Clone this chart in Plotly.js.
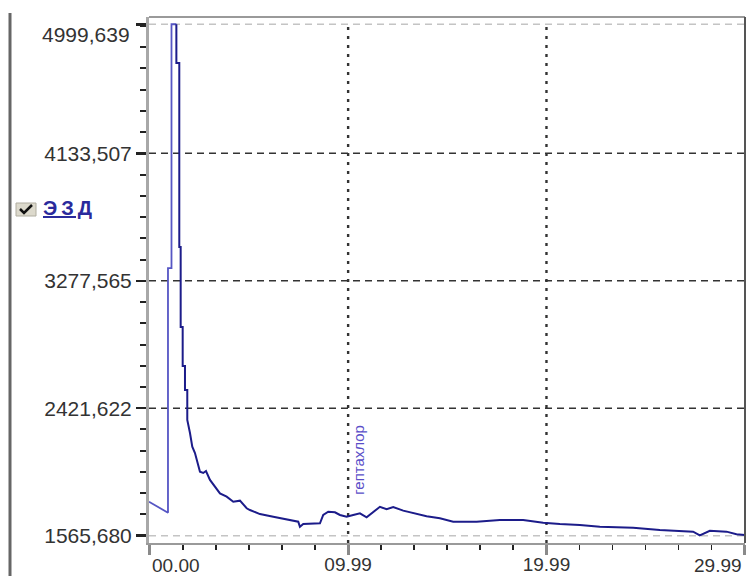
<!DOCTYPE html>
<html><head><meta charset="utf-8">
<script src="https://cdn.plot.ly/plotly-3.0.1.min.js"></script>
<style>html,body{margin:0;padding:0;background:#fff}#chart{width:748px;height:576px}</style>
</head><body><div id="chart"></div>
<script>
// ---- data ----
const timeMin = [-0.05, 0.907, 0.907, 1.084, 1.084, 1.33, 1.33, 1.477, 1.477, 1.547,
  1.547, 1.648, 1.648, 1.764, 1.764, 1.88, 1.88, 2.016, 2.132, 2.268,
  2.384, 2.52, 2.686, 2.823, 3.024, 3.276, 3.528, 3.866, 4.199, 4.536,
  4.874, 5.04, 5.544, 6.215, 6.89, 7.475, 7.56, 7.727, 8.569, 8.735,
  8.987, 9.325, 9.577, 9.914, 10.247, 10.585, 10.922, 11.593, 11.93, 12.263,
  12.767, 13.271, 13.947, 14.617, 15.287, 16.467, 17.641, 18.816, 19.824, 20.665,
  21.673, 22.681, 24.36, 25.706, 27.384, 27.722, 28.226, 29.068, 29.572, 29.99];
const signal = [1794, 1720, 3363, 3363, 5000, 5000, 4740, 4740, 3504, 3504,
  2967, 2967, 2705, 2705, 2544, 2544, 2343, 2255, 2163, 2121,
  2063, 1995, 1987, 2000, 1940, 1895, 1850, 1828, 1794, 1801,
  1750, 1738, 1711, 1693, 1676, 1660, 1626, 1644, 1649, 1705,
  1727, 1723, 1705, 1693, 1705, 1716, 1689, 1760, 1743, 1758,
  1734, 1716, 1697, 1683, 1660, 1660, 1671, 1671, 1653, 1644,
  1638, 1626, 1619, 1604, 1593, 1568, 1599, 1593, 1575, 1570];
const xTickVals = [0, 9.99, 19.99, 29.99];
const xTickText = ['00.00', '09.99', '19.99', '29.99'];
const yTickVals = [1565.680, 2421.622, 3277.565, 4133.507, 4999.639];
const yTickText = ['1565,680', '2421,622', '3277,565', '4133,507', '4999,639'];
const seriesName = 'ЭЗД';
const peakNames = ['гептахлор'];
const peakTimes = [10.48];
const peakLabelY = [2074];

// ---- layout geometry ----
const W = 748, H = 576, ML = 149, MR = 3, MT = 17, MB = 33;
const PW = W - ML - MR, PH = H - MT - MB;
const px = v => (v - ML) / PW;          // pixel x -> paper
const py = v => (H - MB - v) / PH;      // pixel y -> paper
const lightEnd = 6;
const FONT = 'Liberation Sans, Arial, sans-serif';

const traces = [
  {x: timeMin.slice(0, lightEnd), y: signal.slice(0, lightEnd), mode: 'lines',
   line: {color: '#5656c4', width: 1.8}, hoverinfo: 'skip', showlegend: false},
  {x: timeMin.slice(lightEnd - 1), y: signal.slice(lightEnd - 1), mode: 'lines', name: seriesName,
   line: {color: '#1c1c8a', width: 2}, showlegend: false}
];

const shapes = [];
yTickVals.forEach((v, i) => {
  const outer = (i === 0 || i === yTickVals.length - 1);
  shapes.push({type: 'line', xref: 'paper', yref: 'y', x0: 0, x1: 1, y0: v, y1: v, layer: 'below',
    line: {color: outer ? '#c4c4c4' : '#333', width: 1.6, dash: '7px,5px'}});
});
xTickVals.slice(1, -1).forEach(v => {
  shapes.push({type: 'line', xref: 'x', yref: 'paper', x0: v, x1: v, y0: 0, y1: 0.99, layer: 'below',
    line: {color: '#333', width: 2.4, dash: '3px,6px'}});
});
// top and right frame
shapes.push({type: 'line', xref: 'paper', yref: 'paper', x0: 0, x1: 1, y0: 1, y1: 1, line: {color: '#9a9a9a', width: 2}});
shapes.push({type: 'line', xref: 'paper', yref: 'paper', x0: 1, x1: 1, y0: 0, y1: 1, line: {color: '#555', width: 2}});
// far-left window frame
shapes.push({type: 'line', xref: 'paper', yref: 'paper', x0: px(10), x1: px(10), y0: py(13), y1: py(576), line: {color: '#666', width: 3}});
// legend checkbox
shapes.push({type: 'rect', xref: 'paper', yref: 'paper', x0: px(16), x1: px(36), y0: py(216), y1: py(203),
  fillcolor: '#dcd9cc', line: {color: '#b0ada0', width: 1}});
shapes.push({type: 'path', xref: 'paper', yref: 'paper',
  path: `M ${px(20)} ${py(209)} L ${px(24)} ${py(213)} L ${px(32)} ${py(205)}`,
  line: {color: '#111', width: 2.5}});

const annotations = [
  {xref: 'paper', yref: 'paper', x: px(41), y: py(208), xanchor: 'left', yanchor: 'middle', showarrow: false,
   text: '<b><u>' + seriesName.split('').join('\u2009') + '</u></b>', font: {family: FONT, size: 20, color: '#2a2a9c'}},
  // end x tick labels (kept inside the canvas like the reference)
  {xref: 'x', yref: 'paper', x: xTickVals[0], y: 0, yshift: -10, xanchor: 'left', yanchor: 'top', showarrow: false,
   text: xTickText[0], font: {family: FONT, size: 19, color: '#333'}},
  {xref: 'x', yref: 'paper', x: xTickVals[3], y: 0, yshift: -10, xanchor: 'right', xshift: -1, yanchor: 'top', showarrow: false,
   text: xTickText[3], font: {family: FONT, size: 19, color: '#333'}},
  // top y label, pushed down below the frame
  {xref: 'paper', yref: 'y', x: 0, xshift: -17, y: yTickVals[4], yshift: -10, xanchor: 'right', yanchor: 'middle', showarrow: false,
   text: yTickText[4], font: {family: FONT, size: 21, color: '#333'}}
];
peakNames.forEach((n, i) => annotations.push({xref: 'x', yref: 'y', x: peakTimes[i], y: peakLabelY[i], textangle: -90,
  showarrow: false, text: n, font: {family: FONT, size: 15, color: '#5a4ec8'}}));

const layout = {
  width: W, height: H, margin: {l: ML, r: MR, t: MT, b: MB, pad: 0},
  paper_bgcolor: '#fff', plot_bgcolor: '#fff', showlegend: false,
  xaxis: {range: [-0.05, 30.0], tickmode: 'array', tickvals: xTickVals,
    ticktext: xTickText.map((t, i) => (i === 0 || i === xTickText.length - 1) ? '' : t),
    ticks: 'outside', ticklen: 10, tickwidth: 3, tickcolor: '#8a8a8a', ticklabelstandoff: -7,
    showgrid: false, zeroline: false, showline: true, linecolor: '#9a9a9a', linewidth: 2,
    tickfont: {family: FONT, size: 19, color: '#333'},
    minor: {tickmode: 'linear', tick0: 0, dtick: 1.665, ticks: 'outside', ticklen: 5, tickwidth: 1.5, tickcolor: '#222', showgrid: false}},
  yaxis: {range: [1516.7, 5048.7], tickmode: 'array', tickvals: yTickVals,
    ticktext: yTickText.map((t, i) => i === yTickText.length - 1 ? '' : t),
    ticks: 'outside', ticklen: 10, tickwidth: 2.5, tickcolor: '#222',
    showgrid: false, zeroline: false, showline: true, linecolor: '#a8a8a8', linewidth: 3,
    tickfont: {family: FONT, size: 21, color: '#333'},
    minor: {tickmode: 'linear', tick0: 1565.68, dtick: 142.657, ticks: 'outside', ticklen: 6, tickwidth: 2, tickcolor: '#222', showgrid: false}},
  shapes: shapes, annotations: annotations
};
Plotly.newPlot('chart', traces, layout, {displayModeBar: false, staticPlot: true});
</script></body></html>
